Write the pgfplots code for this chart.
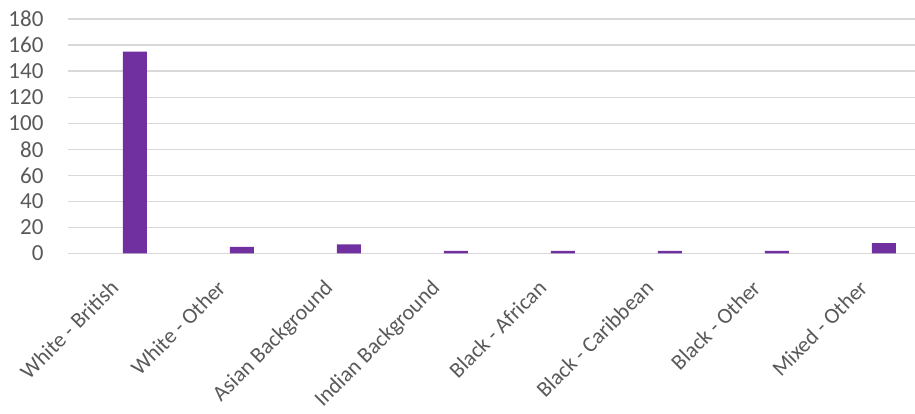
\documentclass[border=0pt]{standalone}
\usepackage{fontspec}
\setmainfont{Carlito}
\usepackage{pgfplots}
\pgfplotsset{compat=1.18}
\definecolor{barpurple}{HTML}{7030A0}
\definecolor{gridgray}{HTML}{D9D9D9}
\definecolor{textgray}{HTML}{595959}

\begin{document}
\begin{tikzpicture}
\useasboundingbox (-68pt,-160.5pt) rectangle (847pt,253.5pt);
\begin{axis}[
  scale only axis,
  width=847pt, height=234.5pt,
  xmin=-0.626, xmax=7.29,
  ymin=0, ymax=180,
  ytick={0,20,...,180},
  xtick={0,...,7},
  xticklabels={White - British, White - Other, Asian Background, Indian Background,
    Black - African, Black - Caribbean, Black - Other, Mixed - Other},
  axis line style={draw=none},
  major tick length=0pt,
  ymajorgrids,
  grid style={gridgray, line width=1.3pt},
  tick label style={font=\fontsize{23}{27}\selectfont, text=textgray},
  /pgf/number format/assume math mode=true,
  yticklabel style={anchor=east, xshift=-21pt},
  % shifts are taken in the rotated frame
  xticklabel style={font=\fontsize{22}{26}\selectfont, xshift=-26pt, yshift=-25pt,
    rotate=45, anchor=north east, inner sep=0pt},
  ybar, bar width=24pt,
]
\addplot[fill=barpurple, draw=none] coordinates {
  (0,155) (1,5) (2,7) (3,2) (4,2) (5,2) (6,2) (7,8)
};
\end{axis}
\end{tikzpicture}
\end{document}
